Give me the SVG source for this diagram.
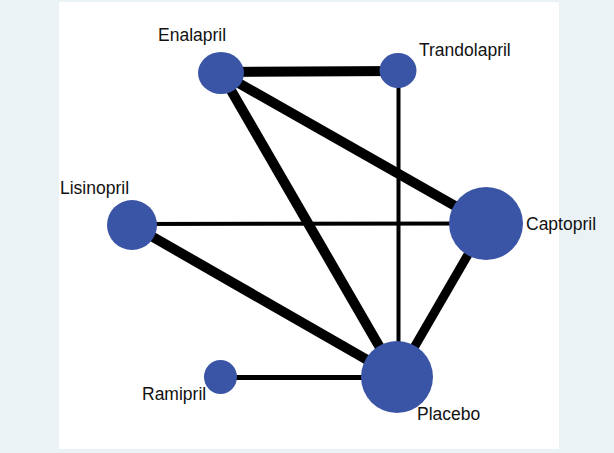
<svg xmlns="http://www.w3.org/2000/svg" width="614" height="453" viewBox="0 0 614 453">
  <style>
    .bg { fill: #eaf2f6; }
    .panel { fill: #ffffff; }
    .edge { stroke: #000000; stroke-linecap: butt; fill: none; }
    .node { fill: #3a54a6; }
    .label { font-family: "Liberation Sans", Arial, Helvetica, sans-serif; font-size: 17.5px; fill: #111111; }
  </style>

  <!-- frame -->
  <rect class="bg" x="0" y="0" width="614" height="453"/>
  <rect class="panel" x="59" y="2" width="500" height="447"/>

  <!-- connectors (line width = number of comparisons) -->
  <g id="connectors">
    <line class="edge" x1="221" y1="72" x2="398" y2="71" stroke-width="10"/>
    <line class="edge" x1="221" y1="73" x2="486" y2="223.5" stroke-width="10"/>
    <line class="edge" x1="221" y1="73" x2="397" y2="377" stroke-width="10"/>
    <line class="edge" x1="398.5" y1="71" x2="398.5" y2="377" stroke-width="4"/>
    <line class="edge" x1="132" y1="224" x2="486" y2="223.5" stroke-width="4"/>
    <line class="edge" x1="132" y1="225" x2="397" y2="377" stroke-width="10"/>
    <line class="edge" x1="486" y1="223.5" x2="397" y2="377" stroke-width="9"/>
    <line class="edge" x1="220.5" y1="377.5" x2="397" y2="377.5" stroke-width="5"/>
  </g>

  <!-- treatments -->
  <g id="enalapril">
    <ellipse class="node" cx="221" cy="73" rx="23" ry="21"/>
    <text class="label" x="158" y="41">Enalapril</text>
  </g>
  <g id="trandolapril">
    <ellipse class="node" cx="398" cy="70.5" rx="18.5" ry="17.5"/>
    <text class="label" x="419" y="56">Trandolapril</text>
  </g>
  <g id="lisinopril">
    <circle class="node" cx="132" cy="225" r="25"/>
    <text class="label" x="60" y="194">Lisinopril</text>
  </g>
  <g id="captopril">
    <ellipse class="node" cx="486" cy="223.5" rx="37" ry="36.5"/>
    <text class="label" x="526" y="229.5">Captopril</text>
  </g>
  <g id="ramipril">
    <ellipse class="node" cx="220.5" cy="377" rx="16.5" ry="17"/>
    <text class="label" x="142" y="400">Ramipril</text>
  </g>
  <g id="placebo">
    <circle class="node" cx="397" cy="377" r="36"/>
    <text class="label" x="417" y="420">Placebo</text>
  </g>
</svg>
